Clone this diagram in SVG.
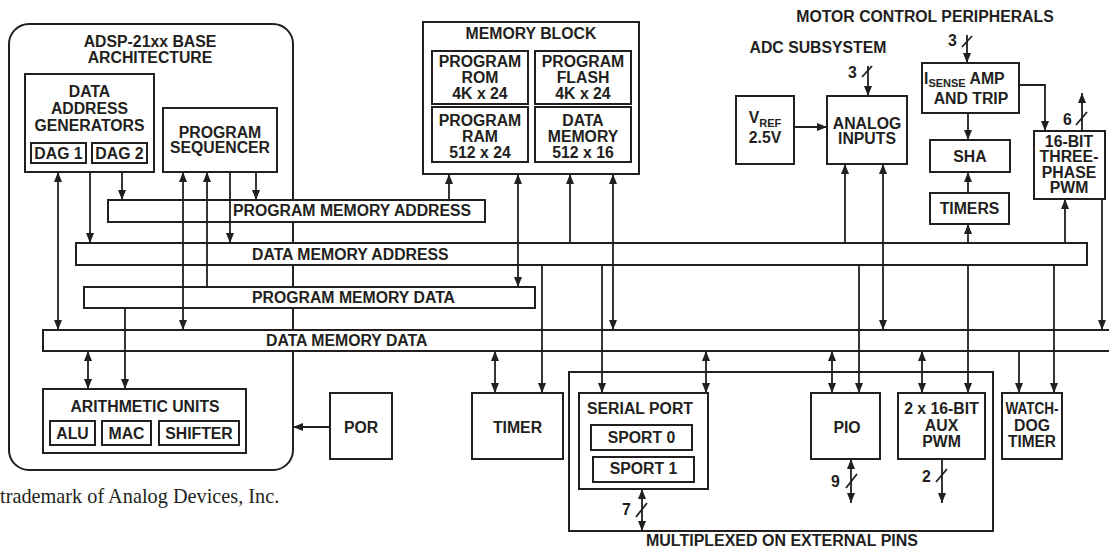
<svg xmlns="http://www.w3.org/2000/svg" width="1109" height="548" viewBox="0 0 1109 548">
<defs>
<style>
.b{fill:#fff;stroke:#231f20;stroke-width:2}
.n{fill:none;stroke:#231f20;stroke-width:2}
.c{fill:none;stroke:#231f20;stroke-width:1.8}
.t{font-family:"Liberation Sans",Arial,sans-serif;font-weight:bold;font-size:15.8px;fill:#231f20}
.m{text-anchor:middle}
.s{font-size:11px}
.tm{font-family:"Liberation Serif","Times New Roman",serif;font-size:20.3px;fill:#231f20}
</style>
<marker id="ah" viewBox="0 0 10 8" refX="10" refY="4" markerWidth="10" markerHeight="8" markerUnits="userSpaceOnUse" orient="auto-start-reverse">
<path d="M0,0 L10,4 L0,8 z" fill="#231f20"/>
</marker>
</defs>

<g id="base">
<rect class="n" x="9" y="24" width="284" height="446" rx="20"/>
<text class="t m" x="150" y="47">ADSP-21xx BASE</text>
<text class="t m" x="150" y="63">ARCHITECTURE</text>
</g>

<g id="dag">
<rect class="b" x="25" y="74" width="129" height="98"/>
<text class="t m" x="89.5" y="97">DATA</text>
<text class="t m" x="89.5" y="114">ADDRESS</text>
<text class="t m" x="89.5" y="131">GENERATORS</text>
<rect class="b" x="31" y="143" width="55" height="20"/>
<text class="t m" x="58.5" y="158.5">DAG 1</text>
<rect class="b" x="92" y="143" width="55" height="20"/>
<text class="t m" x="119.5" y="158.5">DAG 2</text>
</g>

<g id="sequencer">
<rect class="b" x="163" y="108" width="114" height="64"/>
<text class="t m" x="220" y="138">PROGRAM</text>
<text class="t m" x="220" y="153">SEQUENCER</text>
</g>

<g id="pma">
<rect class="b" x="108" y="200" width="377" height="22"/>
<text class="t" x="233" y="216">PROGRAM MEMORY ADDRESS</text>
</g>
<g id="dma">
<rect class="b" x="76" y="243" width="1011" height="22"/>
<text class="t" x="252" y="260">DATA MEMORY ADDRESS</text>
</g>
<g id="pmd">
<rect class="b" x="84" y="287" width="451" height="21"/>
<text class="t" x="252" y="303">PROGRAM MEMORY DATA</text>
</g>
<g id="dmd">
<rect class="b" x="43" y="330" width="1075" height="21"/>
<text class="t" x="266" y="346">DATA MEMORY DATA</text>
</g>

<g id="arith">
<rect class="b" x="43" y="389" width="203" height="64"/>
<text class="t m" x="145" y="412">ARITHMETIC UNITS</text>
<rect class="b" x="50" y="421" width="45" height="24"/>
<text class="t m" x="72.5" y="439">ALU</text>
<rect class="b" x="102" y="421" width="49" height="24"/>
<text class="t m" x="126.5" y="439">MAC</text>
<rect class="b" x="159" y="421" width="80" height="24"/>
<text class="t m" x="199" y="439">SHIFTER</text>
</g>

<g id="por">
<rect class="b" x="330" y="393" width="62" height="66"/>
<text class="t m" x="361" y="433">POR</text>
</g>

<g id="timer">
<rect class="b" x="472" y="393" width="91" height="66"/>
<text class="t m" x="517.5" y="433">TIMER</text>
</g>

<g id="memory">
<rect class="b" x="423" y="22" width="216" height="152"/>
<text class="t m" x="531" y="39">MEMORY BLOCK</text>
<rect class="b" x="432" y="51" width="96" height="53"/>
<text class="t m" x="480" y="67">PROGRAM</text>
<text class="t m" x="480" y="83">ROM</text>
<text class="t m" x="480" y="99">4K x 24</text>
<rect class="b" x="535" y="51" width="96" height="53"/>
<text class="t m" x="583" y="67">PROGRAM</text>
<text class="t m" x="583" y="83">FLASH</text>
<text class="t m" x="583" y="99">4K x 24</text>
<rect class="b" x="432" y="107" width="96" height="55"/>
<text class="t m" x="480" y="126">PROGRAM</text>
<text class="t m" x="480" y="142">RAM</text>
<text class="t m" x="480" y="158">512 x 24</text>
<rect class="b" x="535" y="107" width="96" height="55"/>
<text class="t m" x="583" y="126">DATA</text>
<text class="t m" x="583" y="142">MEMORY</text>
<text class="t m" x="583" y="158">512 x 16</text>
</g>

<g id="labels">
<text class="t m" x="925" y="22">MOTOR CONTROL PERIPHERALS</text>
<text class="t m" x="818" y="53">ADC SUBSYSTEM</text>
<text class="t" x="646" y="546" textLength="272" lengthAdjust="spacingAndGlyphs">MULTIPLEXED ON EXTERNAL PINS</text>
<text class="tm" x="0" y="503">trademark of Analog Devices, Inc.</text>
</g>

<g id="vref">
<rect class="b" x="736" y="96" width="58" height="68"/>
<text class="t m" x="765" y="123">V<tspan class="s" dy="4">REF</tspan></text>
<text class="t m" x="765" y="143">2.5V</text>
</g>

<g id="analog">
<rect class="b" x="827" y="96" width="80" height="68"/>
<text class="t m" x="867" y="129">ANALOG</text>
<text class="t m" x="867" y="144">INPUTS</text>
</g>

<g id="isense">
<rect class="b" x="922" y="63" width="97" height="50"/>
<text class="t" x="924" y="84">I<tspan class="s" dy="3">SENSE</tspan><tspan dy="-3"> AMP</tspan></text>
<text class="t m" x="971" y="104">AND TRIP</text>
</g>

<g id="sha">
<rect class="b" x="930" y="140" width="80" height="32"/>
<text class="t m" x="970" y="162">SHA</text>
</g>

<g id="timers">
<rect class="b" x="930" y="193" width="79" height="31"/>
<text class="t m" x="969.5" y="214">TIMERS</text>
</g>

<g id="pwm">
<rect class="b" x="1034" y="131" width="71" height="68"/>
<text class="t m" x="1069" y="147">16-BIT</text>
<text class="t m" x="1069" y="162">THREE-</text>
<text class="t m" x="1069" y="178">PHASE</text>
<text class="t m" x="1069" y="193">PWM</text>
</g>

<g id="mux">
<rect class="n" x="569" y="372" width="424" height="159"/>
</g>

<g id="serial">
<rect class="b" x="579" y="393" width="129" height="96"/>
<text class="t m" x="640" y="414">SERIAL PORT</text>
<rect class="b" x="591" y="425" width="101" height="25"/>
<text class="t m" x="641.5" y="443">SPORT 0</text>
<rect class="b" x="593" y="457" width="101" height="25"/>
<text class="t m" x="643.5" y="474">SPORT 1</text>
</g>

<g id="pio">
<rect class="b" x="811" y="393" width="69" height="66"/>
<text class="t m" x="847" y="433">PIO</text>
</g>

<g id="auxpwm">
<rect class="b" x="898" y="393" width="87" height="66"/>
<text class="t m" x="941.5" y="414">2 x 16-BIT</text>
<text class="t m" x="941.5" y="431">AUX</text>
<text class="t m" x="941.5" y="447">PWM</text>
</g>

<g id="watchdog">
<rect class="b" x="1002" y="393" width="60" height="66"/>
<text class="t m" x="1032" y="414" textLength="53" lengthAdjust="spacingAndGlyphs">WATCH-</text>
<text class="t m" x="1032" y="431">DOG</text>
<text class="t m" x="1032" y="447" textLength="48" lengthAdjust="spacingAndGlyphs">TIMER</text>
</g>

<g id="connectors">
<line class="c" x1="58" y1="172" x2="58" y2="330" marker-start="url(#ah)" marker-end="url(#ah)"/>
<line class="c" x1="90" y1="172" x2="90" y2="243" marker-end="url(#ah)"/>
<line class="c" x1="122" y1="172" x2="122" y2="200" marker-end="url(#ah)"/>
<line class="c" x1="183" y1="172" x2="183" y2="330" marker-start="url(#ah)" marker-end="url(#ah)"/>
<line class="c" x1="207" y1="287" x2="207" y2="172" marker-end="url(#ah)"/>
<line class="c" x1="230" y1="172" x2="230" y2="243" marker-end="url(#ah)"/>
<line class="c" x1="256" y1="172" x2="256" y2="200" marker-end="url(#ah)"/>
<line class="c" x1="125" y1="308" x2="125" y2="389" marker-end="url(#ah)"/>
<line class="c" x1="88" y1="351" x2="88" y2="389" marker-start="url(#ah)" marker-end="url(#ah)"/>
<line class="c" x1="330" y1="427" x2="293" y2="427" marker-end="url(#ah)"/>
<line class="c" x1="449" y1="200" x2="449" y2="174" marker-end="url(#ah)"/>
<line class="c" x1="518" y1="174" x2="518" y2="287" marker-start="url(#ah)" marker-end="url(#ah)"/>
<line class="c" x1="570" y1="243" x2="570" y2="174" marker-end="url(#ah)"/>
<line class="c" x1="613" y1="174" x2="613" y2="330" marker-start="url(#ah)" marker-end="url(#ah)"/>
<line class="c" x1="495" y1="351" x2="495" y2="393" marker-start="url(#ah)" marker-end="url(#ah)"/>
<line class="c" x1="542" y1="265" x2="542" y2="393" marker-end="url(#ah)"/>
<line class="c" x1="602" y1="265" x2="602" y2="393" marker-end="url(#ah)"/>
<line class="c" x1="706" y1="351" x2="706" y2="393" marker-start="url(#ah)" marker-end="url(#ah)"/>
<line class="c" x1="642" y1="489" x2="642" y2="531" marker-start="url(#ah)" marker-end="url(#ah)"/>
<line class="c" x1="636" y1="517" x2="647" y2="503"/>
<text class="t" x="622" y="515">7</text>
<line class="c" x1="794" y1="127" x2="827" y2="127" marker-end="url(#ah)"/>
<line class="c" x1="868" y1="66" x2="868" y2="96" marker-end="url(#ah)"/>
<line class="c" x1="862" y1="77" x2="872" y2="66"/>
<text class="t" x="848" y="78">3</text>
<line class="c" x1="845" y1="243" x2="845" y2="164" marker-end="url(#ah)"/>
<line class="c" x1="883" y1="164" x2="883" y2="330" marker-start="url(#ah)" marker-end="url(#ah)"/>
<line class="c" x1="832" y1="351" x2="832" y2="393" marker-start="url(#ah)" marker-end="url(#ah)"/>
<line class="c" x1="859" y1="265" x2="859" y2="393" marker-end="url(#ah)"/>
<line class="c" x1="851" y1="459" x2="851" y2="503" marker-start="url(#ah)" marker-end="url(#ah)"/>
<line class="c" x1="846" y1="488" x2="857" y2="474"/>
<text class="t" x="831" y="487">9</text>
<line class="c" x1="922" y1="351" x2="922" y2="393" marker-start="url(#ah)" marker-end="url(#ah)"/>
<line class="c" x1="968" y1="265" x2="968" y2="393" marker-end="url(#ah)"/>
<line class="c" x1="942" y1="459" x2="942" y2="503" marker-end="url(#ah)"/>
<line class="c" x1="936" y1="482" x2="947" y2="469"/>
<text class="t" x="922" y="482">2</text>
<line class="c" x1="967" y1="35" x2="967" y2="63" marker-end="url(#ah)"/>
<line class="c" x1="962" y1="47" x2="972" y2="36"/>
<text class="t" x="948" y="46">3</text>
<line class="c" x1="968" y1="113" x2="968" y2="140" marker-end="url(#ah)"/>
<line class="c" x1="968" y1="193" x2="968" y2="172" marker-end="url(#ah)"/>
<line class="c" x1="968" y1="243" x2="968" y2="224" marker-end="url(#ah)"/>
<polyline class="c" points="1019,85 1045,85 1045,131" marker-end="url(#ah)"/>
<line class="c" x1="1082" y1="131" x2="1082" y2="93" marker-end="url(#ah)"/>
<line class="c" x1="1076" y1="125" x2="1087" y2="112"/>
<text class="t" x="1063" y="125">6</text>
<line class="c" x1="1065" y1="243" x2="1065" y2="199" marker-end="url(#ah)"/>
<line class="c" x1="1102" y1="199" x2="1102" y2="330" marker-end="url(#ah)"/>
<line class="c" x1="1019" y1="351" x2="1019" y2="393" marker-end="url(#ah)"/>
<line class="c" x1="1054" y1="265" x2="1054" y2="393" marker-end="url(#ah)"/>
</g>
</svg>
